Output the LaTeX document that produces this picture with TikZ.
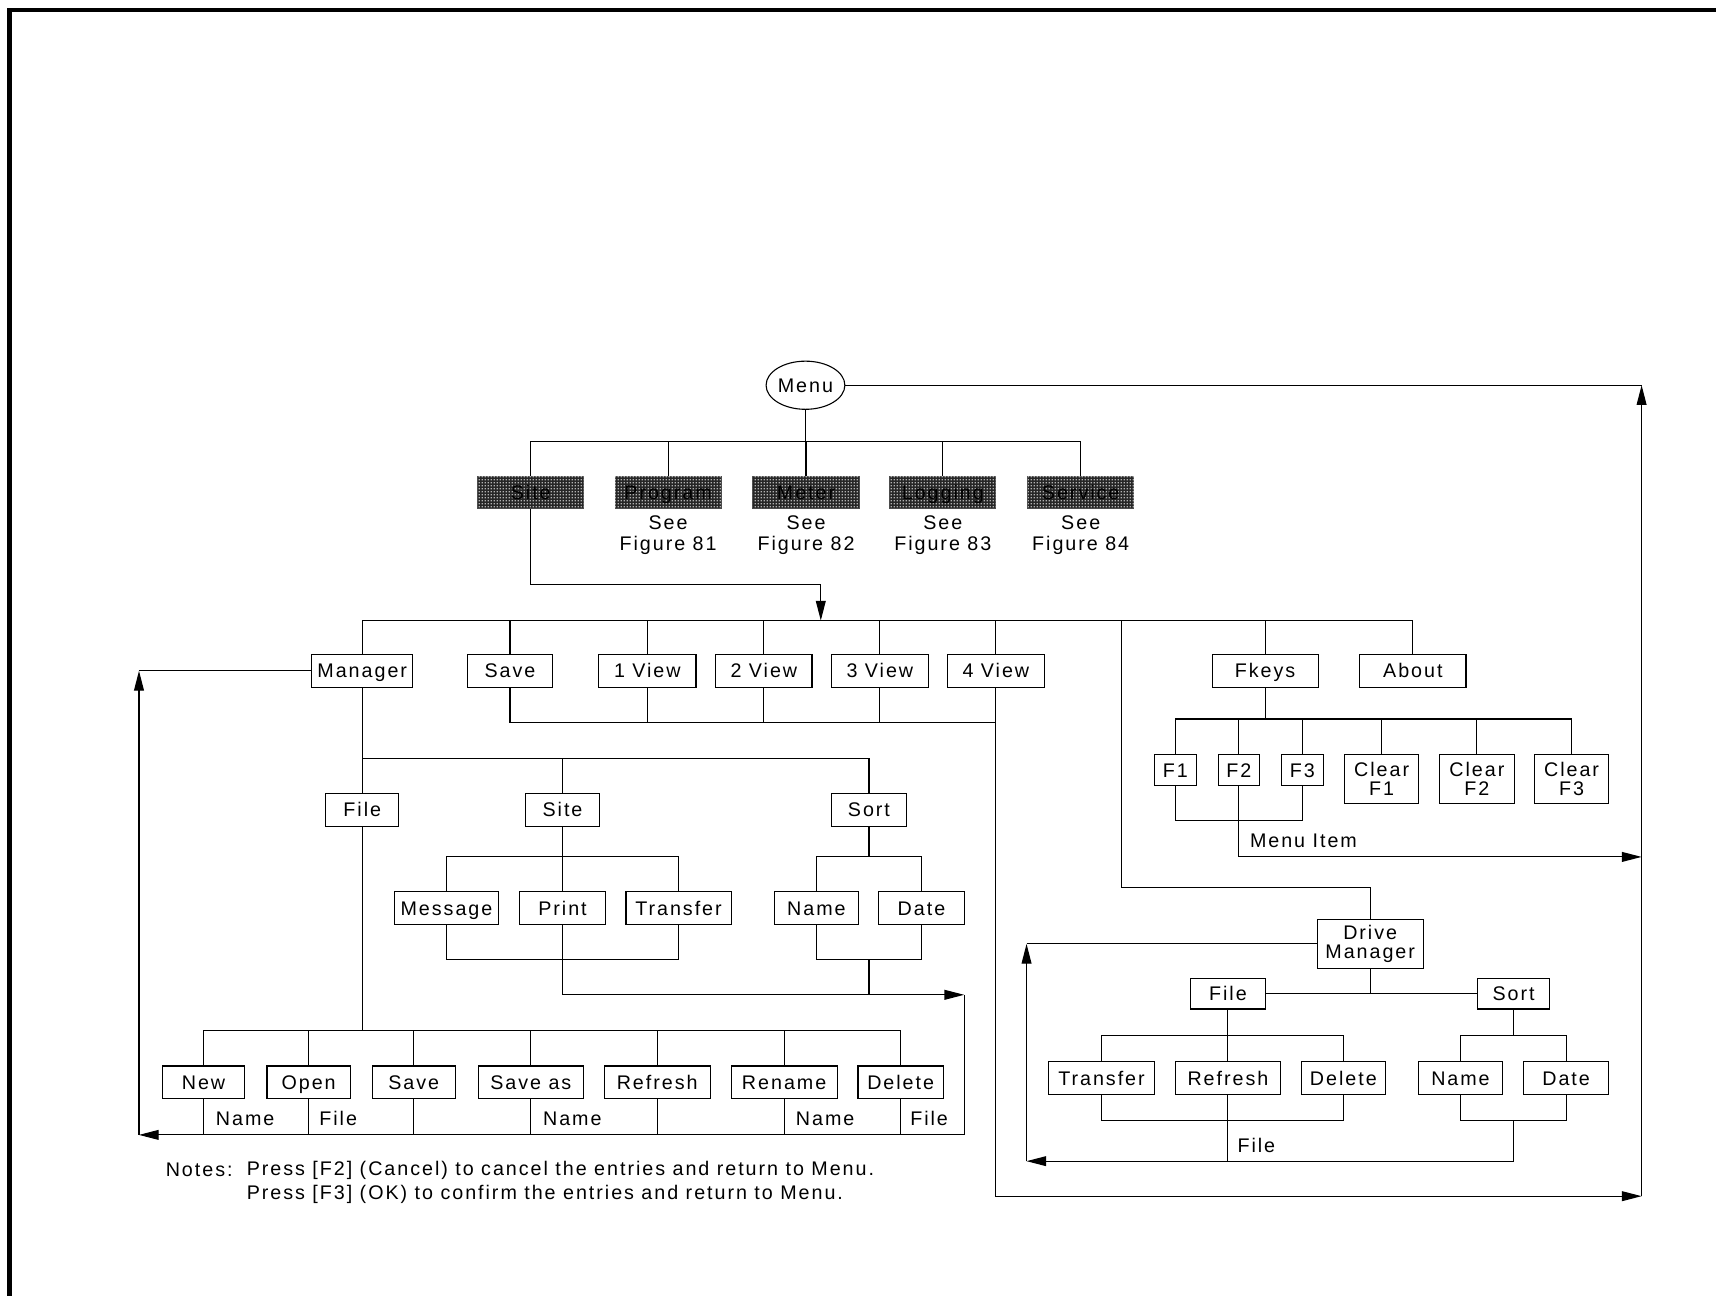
\documentclass[tikz,border=0pt]{standalone}
\usepackage{fontspec}
\setmainfont{Liberation Sans}[LetterSpace=10]
\usetikzlibrary{arrows.meta,patterns.meta,shapes.geometric}
\tikzdeclarepattern{
  name=finedots,
  type=uncolored,
  bounding box={(0pt,0pt) and (1.3pt,1.3pt)},
  tile size={(1.3pt,1.3pt)},
  code={\fill (0.3pt,0.3pt) rectangle (0.95pt,0.95pt);}
}
\begin{document}
\begin{tikzpicture}[x=0.5pt,y=-0.5pt,line width=0.5pt,
  every node/.append style={font=\fontsize{9}{10.5}\selectfont},
  bx/.style={draw, rectangle, inner sep=0pt, minimum height=15pt, text height=6.5pt, text depth=0pt},
  bxtwo/.style={draw, rectangle, inner sep=0pt, minimum height=22.5pt, align=center, font=\fontsize{9}{8.5}\selectfont},
  shd/.style={rectangle, draw=black!70, inner sep=0pt, minimum height=15pt, minimum width=48.5pt,
    text height=6.5pt, text depth=0pt,
    fill=black!85, postaction={pattern=finedots, pattern color=white!70!black}},
  lab/.style={inner sep=0pt},
  arr/.style={-{Triangle[length=9pt,width=4.5pt]}}]
\useasboundingbox (0,0) rectangle (1568,1184);
% frame
\draw[line width=2pt] (8.7,1184) -- (8.7,9.2) -- (1568,9.2);
% top level
\node[draw, ellipse, minimum width=36pt, minimum height=22pt, inner sep=0pt, text height=6.5pt, text depth=0pt] (menu) at (736,352) {Menu};
\node[shd] (site) at (485,450) {Site};
\node[shd] (program) at (610.5,450) {Program};
\node[shd] (meter) at (736.5,450) {Meter};
\node[shd] (logging) at (861.5,450) {Logging};
\node[shd] (service) at (987.5,450) {Service};
\node[lab, align=center, font=\fontsize{9}{9.5}\selectfont] (see1) at (610.5,489) {See\\Figure 81};
\node[lab, align=center, font=\fontsize{9}{9.5}\selectfont] (see2) at (736.5,489) {See\\Figure 82};
\node[lab, align=center, font=\fontsize{9}{9.5}\selectfont] (see3) at (861.5,489) {See\\Figure 83};
\node[lab, align=center, font=\fontsize{9}{9.5}\selectfont] (see4) at (987.5,489) {See\\Figure 84};
% row 2
\node[bx, minimum width=46pt] (mgr) at (331,613) {Manager};
\node[bx, minimum width=39pt] (save) at (466,613) {Save};
\node[bx, minimum width=44.5pt] (v1) at (591.5,613) {1 View};
\node[bx, minimum width=44pt] (v2) at (698,613) {2 View};
\node[bx, minimum width=44pt] (v3) at (804,613) {3 View};
\node[bx, minimum width=44pt] (v4) at (910,613) {4 View};
\node[bx, minimum width=48.5pt] (fkeys) at (1156,613) {Fkeys};
\node[bx, minimum width=48.5pt] (about) at (1291,613) {About};
% row 3
\node[bx, minimum width=33.5pt] (file) at (331,740) {File};
\node[bx, minimum width=34pt] (site2) at (514,740) {Site};
\node[bx, minimum width=34pt] (sort) at (794,740) {Sort};
% row 4
\node[bx, minimum width=47.5pt] (msg) at (408,830) {Message};
\node[bx, minimum width=39pt] (print) at (514,830) {Print};
\node[bx, minimum width=48pt] (transfer) at (620,830) {Transfer};
\node[bx, minimum width=38.5pt] (name) at (746,830) {Name};
\node[bx, minimum width=39pt] (date) at (842,830) {Date};
% row 5
\node[bx, minimum width=37.5pt] (new) at (186,989) {New};
\node[bx, minimum width=38pt] (open) at (282,989) {Open};
\node[bx, minimum width=38pt] (save2) at (378,989) {Save};
\node[bx, minimum width=48pt] (saveas) at (485,989) {Save as};
\node[bx, minimum width=48.5pt] (refresh) at (600.5,989) {Refresh};
\node[bx, minimum width=48.5pt] (rename) at (716.5,989) {Rename};
\node[bx, minimum width=39pt] (delete) at (823,989) {Delete};
\node[lab] (ln1) at (224,1022) {Name};
\node[lab] (lf1) at (309,1022) {File};
\node[lab] (ln2) at (523,1022) {Name};
\node[lab] (ln3) at (754,1022) {Name};
\node[lab] (lf2) at (849,1022) {File};
% fkeys row
\node[bx, minimum width=19pt, minimum height=14.5pt] (f1) at (1074,703.5) {F1};
\node[bx, minimum width=19pt, minimum height=14.5pt] (f2) at (1132,703.5) {F2};
\node[bx, minimum width=19pt, minimum height=14.5pt] (f3) at (1190,703.5) {F3};
\node[bxtwo, minimum width=34pt] (cf1) at (1262.5,711.5) {Clear\\F1};
\node[bxtwo, minimum width=34pt] (cf2) at (1349.5,711.5) {Clear\\F2};
\node[bxtwo, minimum width=34pt] (cf3) at (1436,711.5) {Clear\\F3};
\node[lab] (menuitem) at (1191,768) {Menu Item};
% drive manager
\node[bxtwo, minimum width=48.5pt] (dm) at (1252,862.5) {Drive\\Manager};
\node[bx, minimum width=34pt, minimum height=14pt] (dmfile) at (1122,908) {File};
\node[bx, minimum width=33pt, minimum height=14pt] (dmsort) at (1383,908) {Sort};
\node[bx, minimum width=48.5pt] (dtrans) at (1006.5,985) {Transfer};
\node[bx, minimum width=48pt] (dref) at (1122,985) {Refresh};
\node[bx, minimum width=38.5pt] (ddel) at (1227.5,985) {Delete};
\node[bx, minimum width=38.5pt] (dname) at (1334.5,985) {Name};
\node[bx, minimum width=39pt] (ddate) at (1431,985) {Date};
\node[lab] (dfile) at (1148,1047) {File};
% notes
\node[lab, anchor=west] (notes) at (151,1069) {Notes:};
\node[lab, anchor=west] (note1) at (225,1069) {Press [F2] (Cancel) to cancel the entries and return to Menu.};
\node[lab, anchor=west] (note2) at (225,1091) {Press [F3] (OK) to confirm the entries and return to Menu.};
% coordinates
\coordinate (bus1) at (736,403);
\coordinate (k1) at (750,534);
\coordinate (b2a) at (750,567);
\coordinate (dmb) at (1025,567);
\coordinate (dmk) at (1252,811);
\coordinate (vb) at (910,660);
\coordinate (rb) at (1500,1093);
\coordinate (rt) at (1500,352);
\coordinate (b3) at (514,693);
\coordinate (b4) at (331,942);
\coordinate (bl) at (127,1037);
\coordinate (br) at (881,1037);
\coordinate (ml) at (127,613);
\coordinate (pr) at (881,909);
\coordinate (sb) at (514,783);
\coordinate (sb2) at (514,877);
\coordinate (sj) at (794,783);
\coordinate (sj2) at (794,877);
\coordinate (fk) at (1156,657);
\coordinate (fkb) at (1132,750);
\coordinate (mi) at (1500,783);
\coordinate (dmj) at (1252,908);
\coordinate (dfj) at (1122,946);
\coordinate (dfj2) at (1122,1024);
\coordinate (dsj) at (1383,946);
\coordinate (dsj2) at (1383,1024);
\coordinate (dbl) at (938,1061);
\coordinate (dtl) at (938,862.5);
% top connectors
\draw (menu.south) -- (bus1);
\draw (site.north) |- (bus1) -| (service.north);
\foreach \n in {program,meter,logging} \draw (\n.north) -- (\n.north |- bus1);
\draw (menu.east) -- (rt);
\draw[arr] (site.south) |- (k1) -- (b2a);
% bus 2
\draw (mgr.north) |- (b2a) -| (about.north);
\foreach \n in {save,v1,v2,v3,v4,fkeys} \draw (\n.north) -- (\n.north |- b2a);
\draw (dmb) |- (dmk) -- (dm.north);
\draw (save.south) |- (vb);
\foreach \n in {v1,v2,v3} \draw (\n.south) -- (\n.south |- vb);
\draw[arr] (v4.south) |- (rb);
\draw[arr] (rb) -- (rt);
% manager
\draw (mgr.south) -- (file.north);
\draw (mgr.south |- b3) -| (sort.north);
\draw (site2.north) -- (site2.north |- b3);
\draw (file.south) -- (b4);
\draw (new.north) |- (b4) -| (delete.north);
\foreach \n in {open,save2,saveas,refresh,rename} \draw (\n.north) -- (\n.north |- b4);
\foreach \n in {new,open,save2,saveas,refresh,rename,delete} \draw (\n.south) -- (\n.south |- bl);
\draw[arr] (br) -- (bl);
\draw[arr] (bl) -- (ml);
\draw (ml) -- (mgr.west);
% site
\draw (site2.south) -- (print.north);
\draw (msg.north) |- (sb) -| (transfer.north);
\draw (msg.south) |- (sb2) -| (transfer.south);
\draw[arr] (print.south) |- (pr);
\draw (pr) -- (br);
% sort
\draw (sort.south) -- (sj);
\draw (name.north) |- (sj) -| (date.north);
\draw (name.south) |- (sj2) -| (date.south);
\draw (sj2) -- (sj2 |- pr);
% fkeys
\draw (fkeys.south) -- (fk);
\draw (f1.north) |- (fk) -| (cf3.north);
\foreach \n in {f2,f3,cf1,cf2} \draw (\n.north) -- (\n.north |- fk);
\draw (f1.south) |- (fkb) -| (f3.south);
\draw[arr] (f2.south) |- (mi);
% drive manager
\draw (dm.south) -- (dmj);
\draw (dmfile.east) -- (dmsort.west);
\draw (dmfile.south) -- (dfj);
\draw (dtrans.north) |- (dfj) -| (ddel.north);
\draw (dref.north) -- (dfj);
\draw (dtrans.south) |- (dfj2) -| (ddel.south);
\draw (dref.south) -- (dref.south |- dbl);
\draw (dmsort.south) -- (dsj);
\draw (dname.north) |- (dsj) -| (ddate.north);
\draw (dname.south) |- (dsj2) -| (ddate.south);
\draw[arr] (dsj2) |- (dbl);
\draw[arr] (dbl) -- (dtl);
\draw (dtl) -- (dm.west);
\end{tikzpicture}
\end{document}
